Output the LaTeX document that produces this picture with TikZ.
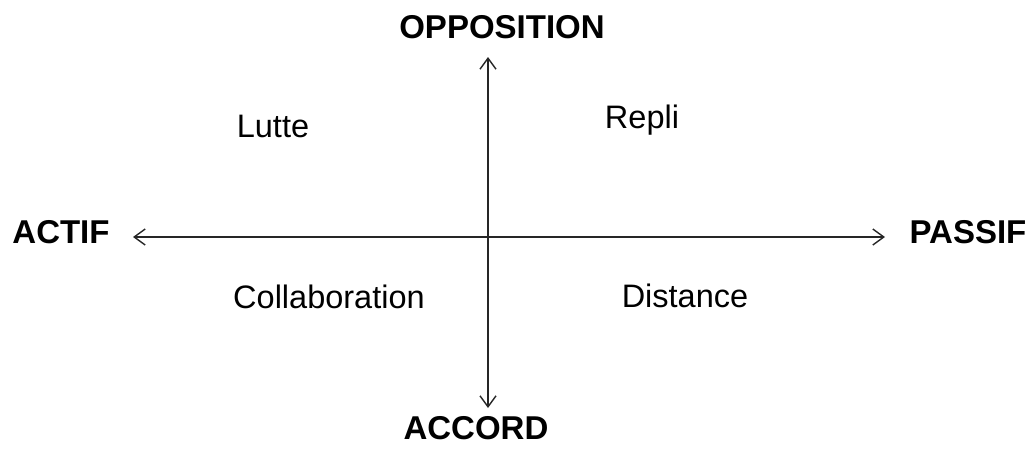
\documentclass[tikz,border=0pt]{standalone}
\usepackage{fontspec}
\setmainfont{Liberation Sans}
\usetikzlibrary{arrows.meta}
\begin{document}
\begin{tikzpicture}[x=1pt,y=-1pt,
  axe/.style={draw=black!85,line width=1.4pt,{Straight Barb[length=11pt,width=16pt]}-{Straight Barb[length=11pt,width=16pt]}},
  pole/.style={anchor=base,inner sep=0pt,font=\fontsize{33}{38}\selectfont\bfseries},
  zone/.style={anchor=base,inner sep=0pt,font=\fontsize{32.5}{38}\selectfont}]
\useasboundingbox (0,0) rectangle (1029,448);
% extremites des axes
\coordinate (gauche) at (133,237);
\coordinate (droite) at (885,237);
\coordinate (haut) at (488,57);
\coordinate (bas) at (488,408);
\draw[axe] (gauche) -- (droite);
\draw[axe] (bas) -- (haut);
% poles
\node[pole] (opposition) at (502,38) {OPPOSITION};
\node[pole] (accord) at (476,439) {ACCORD};
\node[pole] (actif) at (61,243) {ACTIF};
\node[pole] (passif) at (968,243) {PASSIF};
% quadrants
\foreach \nom/\x/\y/\txt in {lutte/273/137/Lutte, repli/642/128/Repli,
  collaboration/329/308/Collaboration, distance/685/307/Distance}
  \node[zone] (\nom) at (\x,\y) {\txt};
\end{tikzpicture}
\end{document}
